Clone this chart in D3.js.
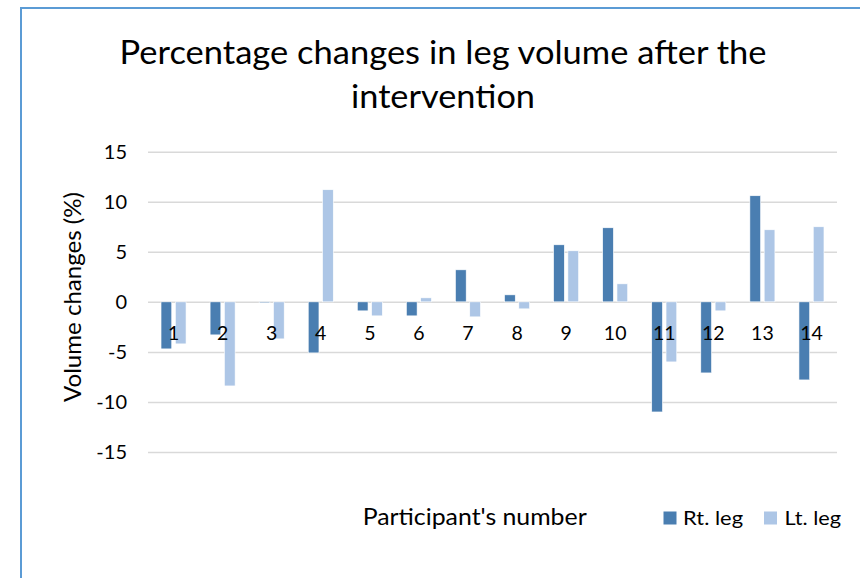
<!DOCTYPE html>
<html>
<head>
<meta charset="utf-8">
<script src="https://cdn.jsdelivr.net/npm/d3@7"></script>
<style>
  html, body { margin: 0; padding: 0; background: #fff; }
  svg { display: block; font-family: Lato, "Open Sans", sans-serif; }
</style>
</head>
<body>
<svg id="chart" width="860" height="578"></svg>
<script>
const titleLines = ["Percentage changes in leg volume after the", "intervention"];
const categories = ["1","2","3","4","5","6","7","8","9","10","11","12","13","14"];
const seriesNames = ["Rt. leg", "Lt. leg"];
const rtLeg = [-4.7, -3.3, -0.1, -5.1, -0.9, -1.4, 3.2, 0.7, 5.7, 7.4, -11.0, -7.1, 10.6, -7.8];
const ltLeg = [-4.2, -8.4, -3.7, 11.2, -1.4, 0.4, -1.5, -0.7, 5.1, 1.8, -6.0, -0.9, 7.2, 7.5];
const yTicks = [-15, -10, -5, 0, 5, 10, 15];
const yTitle = "Volume changes (%)";
const xTitle = "Participant's number";
const colors = ["#4a7eb1", "#adc6e6"];

const svg = d3.select("#chart");

// chart frame (partially visible border)
svg.append("path")
  .attr("d", "M21,578 L21,8 L860,8")
  .attr("fill", "none")
  .attr("stroke", "#5b9bd5")
  .attr("stroke-width", 2);

function fitText(sel, w) {
  sel.attr("textLength", w).attr("lengthAdjust", "spacingAndGlyphs");
}

// Title
const titleSpec = [{y: 63.5, w: 647}, {y: 107.5, w: 184}];
titleLines.forEach((t, i) => {
  svg.append("text")
    .attr("x", 443).attr("y", titleSpec[i].y)
    .attr("text-anchor", "middle")
    .attr("font-size", 32)
    .attr("fill", "#000")
    .text(t)
    .call(fitText, titleSpec[i].w);
});

const x0 = d3.scaleBand().domain(categories).range([149, 836]).paddingInner(0.49).paddingOuter(0.245);
const x1 = d3.scaleBand().domain(seriesNames).range([0, x0.bandwidth()]).paddingInner(0.25);
const y = d3.scaleLinear().domain([-15, 15]).range([452, 151.7]);

// gridlines + y tick labels
const yAxis = svg.append("g")
  .attr("transform", "translate(148,0)")
  .call(d3.axisLeft(y).tickValues(yTicks).tickSizeInner(-689).tickSizeOuter(0).tickPadding(21).tickFormat(d3.format("d")));
yAxis.select(".domain").remove();
yAxis.selectAll(".tick line").attr("stroke", "#d9d9d9").attr("stroke-width", 1.5);
yAxis.selectAll(".tick text")
  .attr("font-family", "Lato, sans-serif")
  .attr("font-size", 20)
  .attr("fill", "#000")
  .text(d => d < 0 ? "-" + Math.abs(d) : d);

// bars
const data = categories.map((c, i) => ({cat: c, vals: [rtLeg[i], ltLeg[i]]}));
const groups = svg.append("g").selectAll("g")
  .data(data).join("g")
  .attr("transform", d => `translate(${x0(d.cat)},0)`);
groups.selectAll("rect")
  .data(d => d.vals.map((v, k) => ({name: seriesNames[k], v, k})))
  .join("rect")
  .attr("x", d => x1(d.name))
  .attr("width", x1.bandwidth())
  .attr("y", d => y(Math.max(0, d.v)))
  .attr("height", d => Math.abs(y(d.v) - y(0)))
  .attr("fill", d => colors[d.k])
  .attr("stroke", "#fff")
  .attr("stroke-width", 0.6);

// category labels at zero line
const xAxis = svg.append("g")
  .attr("transform", `translate(0,${y(0)})`)
  .call(d3.axisBottom(x0).tickSize(0).tickPadding(24.5));
xAxis.select(".domain").remove();
xAxis.selectAll(".tick text")
  .attr("font-family", "Lato, sans-serif")
  .attr("font-size", 19.5)
  .attr("fill", "#000");

// y axis title
svg.append("text")
  .attr("transform", "translate(80.5,297) rotate(-90)")
  .attr("text-anchor", "middle")
  .attr("font-size", 23)
  .attr("fill", "#000")
  .text(yTitle)
  .call(fitText, 210);

// x axis title
svg.append("text")
  .attr("x", 362.7).attr("y", 525)
  .attr("font-size", 23)
  .attr("fill", "#000")
  .text(xTitle)
  .call(fitText, 224);

// legend
const legendSpec = [{sx: 663.5, tx: 683, tw: 60}, {sx: 764, tx: 784.5, tw: 56.5}];
seriesNames.forEach((n, i) => {
  svg.append("rect")
    .attr("x", legendSpec[i].sx).attr("y", 511.5)
    .attr("width", 13).attr("height", 13)
    .attr("fill", colors[i]);
  svg.append("text")
    .attr("x", legendSpec[i].tx).attr("y", 524.5)
    .attr("font-size", 18.5)
    .attr("fill", "#000")
    .text(n)
    .call(fitText, legendSpec[i].tw);
});
</script>
</body>
</html>
